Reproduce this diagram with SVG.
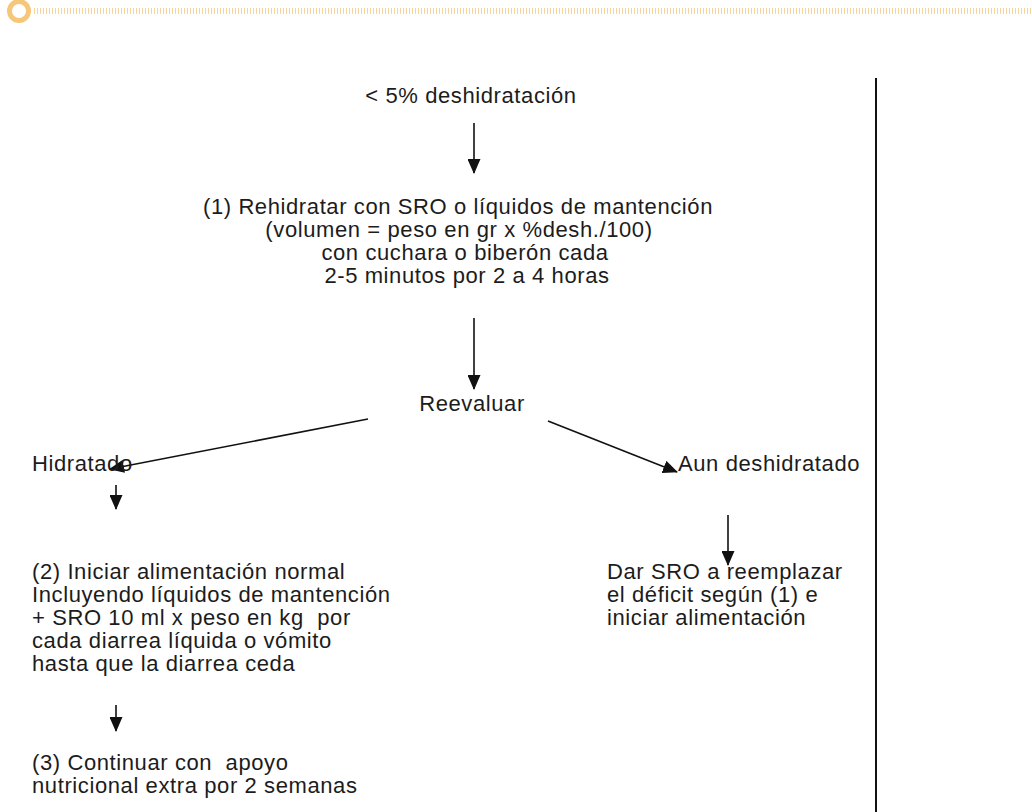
<svg xmlns="http://www.w3.org/2000/svg" width="1032" height="812" viewBox="0 0 1032 812">
  <style>
    text { font-family: "Liberation Sans", Arial, sans-serif; font-size: 22px; letter-spacing: 0.6px; fill: #1c1c1c; white-space: pre; }
    .mid { text-anchor: middle; }
    .conn { stroke: #111; stroke-width: 1.6; fill: none; marker-end: url(#head); }
  </style>
  <defs>
    <marker id="head" viewBox="0 0 15 13" refX="14" refY="6.5" markerWidth="15" markerHeight="13" markerUnits="userSpaceOnUse" orient="auto">
      <path d="M0,0 L15,6.5 L0,13 Z" fill="#111"/>
    </marker>
  </defs>

  <rect width="1032" height="812" fill="#fff"/>

  <!-- header ornament: ring and dotted rule -->
  <g id="header">
    <circle cx="19" cy="11" r="9.5" fill="none" stroke="#F6C679" stroke-width="5"/>
    <line x1="34" y1="11" x2="1032" y2="11" stroke="#F7D49A" stroke-width="6" stroke-dasharray="1 2"/>
  </g>

  <!-- right margin rule -->
  <line id="divider" x1="876" y1="78" x2="876" y2="812" stroke="#111" stroke-width="2"/>

  <g id="connectors">
    <line class="conn" x1="474" y1="123" x2="474" y2="173"/>
    <line class="conn" x1="474" y1="318" x2="474" y2="389"/>
    <line class="conn" x1="368" y1="419" x2="110" y2="469"/>
    <line class="conn" x1="548" y1="421" x2="677" y2="472"/>
    <line class="conn" x1="116" y1="485" x2="116" y2="509"/>
    <line class="conn" x1="728" y1="515" x2="728" y2="565"/>
    <line class="conn" x1="116" y1="705" x2="116" y2="731"/>
  </g>

  <g id="start">
    <text class="mid" x="471" y="103">&lt; 5% deshidratación</text>
  </g>

  <g id="rehidratar">
    <text class="mid" x="458" y="214">(1) Rehidratar con SRO o líquidos de mantención</text>
    <text class="mid" x="459" y="237">(volumen = peso en gr x %desh./100)</text>
    <text class="mid" x="465" y="260">con cuchara o biberón cada</text>
    <text class="mid" x="467" y="283">2-5 minutos por 2 a 4 horas</text>
  </g>

  <g id="reevaluar">
    <text class="mid" x="472" y="411">Reevaluar</text>
  </g>

  <g id="hidratado">
    <text x="32" y="471">Hidratado</text>
  </g>

  <g id="aun-deshidratado">
    <text x="678" y="471">Aun deshidratado</text>
  </g>

  <g id="alimentacion">
    <text x="32" y="579">(2) Iniciar alimentación normal</text>
    <text x="32" y="602">Incluyendo líquidos de mantención</text>
    <text x="32" y="625">+ SRO 10 ml x peso en kg  por</text>
    <text x="32" y="648">cada diarrea líquida o vómito</text>
    <text x="32" y="671">hasta que la diarrea ceda</text>
  </g>

  <g id="apoyo">
    <text x="32" y="770">(3) Continuar con  apoyo</text>
    <text x="32" y="793">nutricional extra por 2 semanas</text>
  </g>

  <g id="reemplazar">
    <text x="607" y="579">Dar SRO a reemplazar</text>
    <text x="607" y="602">el déficit según (1) e</text>
    <text x="607" y="625">iniciar alimentación</text>
  </g>
</svg>
